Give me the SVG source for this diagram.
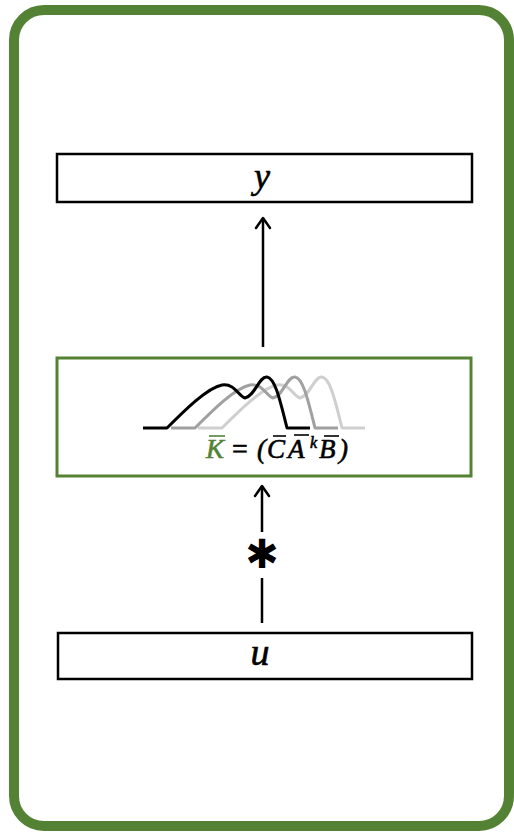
<svg xmlns="http://www.w3.org/2000/svg" width="514" height="832" viewBox="0 0 514 832">
<defs>
<style>
.box{fill:#fff;stroke:#000;stroke-width:2.5}
.gbox{fill:#fff;stroke:#548235;stroke-width:3}
.conn{stroke:#000;stroke-width:2.5;fill:none}
.ah{stroke:#000;stroke-width:2.5;fill:none;stroke-linecap:round;stroke-linejoin:round}
.m{font-family:"Liberation Serif","DejaVu Serif",serif;font-style:italic;fill:#000;stroke:#000;stroke-width:0.6}
.ol{stroke-width:1.6}
.curve{fill:none;stroke-width:3;stroke-linejoin:round}
</style>
</defs>
<rect x="14" y="10" width="495" height="816" rx="30" fill="#fff" stroke="#548235" stroke-width="10"/>
<g id="node-y">
<rect class="box" x="57" y="154" width="415" height="48"/>
<text class="m" x="262" y="188" font-size="36" text-anchor="middle">y</text>
</g>
<g id="node-kernel">
<rect class="gbox" x="57" y="358" width="414" height="118"/>
<path class="curve" stroke="#cfcfcf" d="M198,428 H222 C240,410 262,388 277,385 C290,383 294,397 300,398 C310,396 314,376 322,377 C330,378 335,400 342,428 H365"/>
<path class="curve" stroke="#a0a0a0" d="M171,428 H195 C213,410 235,388 250,385 C263,383 267,397 273,398 C283,396 287,376 295,377 C303,378 308,400 315,428 H338"/>
<path class="curve" stroke="#000" d="M143,428 H167 C185,410 207,388 222,385 C235,383 239,397 245,398 C255,396 259,376 267,377 C275,378 280,400 287,428 H310"/>
<text class="m" x="206" y="458" font-size="27" style="fill:#548235;stroke:#548235">K</text>
<line class="ol" x1="209" y1="436" x2="225" y2="436" stroke="#548235"/>
<text x="232" y="458" font-size="28" font-family="Liberation Serif, serif" fill="#000" stroke="#000" stroke-width="0.6">=</text>
<text class="m" x="257" y="458" font-size="27">(</text>
<text class="m" x="267" y="458" font-size="27">C</text>
<line class="ol" x1="273" y1="436" x2="286" y2="436" stroke="#000"/>
<text class="m" x="288" y="458" font-size="27">A</text>
<line class="ol" x1="294" y1="435" x2="309" y2="435" stroke="#000"/>
<text class="m" x="310" y="448" font-size="16">k</text>
<text class="m" x="319" y="458" font-size="27">B</text>
<line class="ol" x1="324" y1="436" x2="339" y2="436" stroke="#000"/>
<text class="m" x="339" y="458" font-size="27">)</text>
</g>
<g id="node-u">
<rect class="box" x="58" y="633" width="414" height="46"/>
<text class="m" x="260" y="665" font-size="38" text-anchor="middle">u</text>
</g>
<g id="connectors">
<line class="conn" x1="263" y1="347" x2="263" y2="218"/>
<path class="ah" d="M256,228 L263,218 L270,228"/>
<line class="conn" x1="262" y1="532" x2="262" y2="486"/>
<path class="ah" d="M255,496 L262,486 L269,496"/>
<text x="262" y="568" font-size="40" font-family="DejaVu Sans, sans-serif" font-weight="bold" text-anchor="middle" fill="#000">✱</text>
<line class="conn" x1="262" y1="578" x2="262" y2="623"/>
</g>
</svg>
